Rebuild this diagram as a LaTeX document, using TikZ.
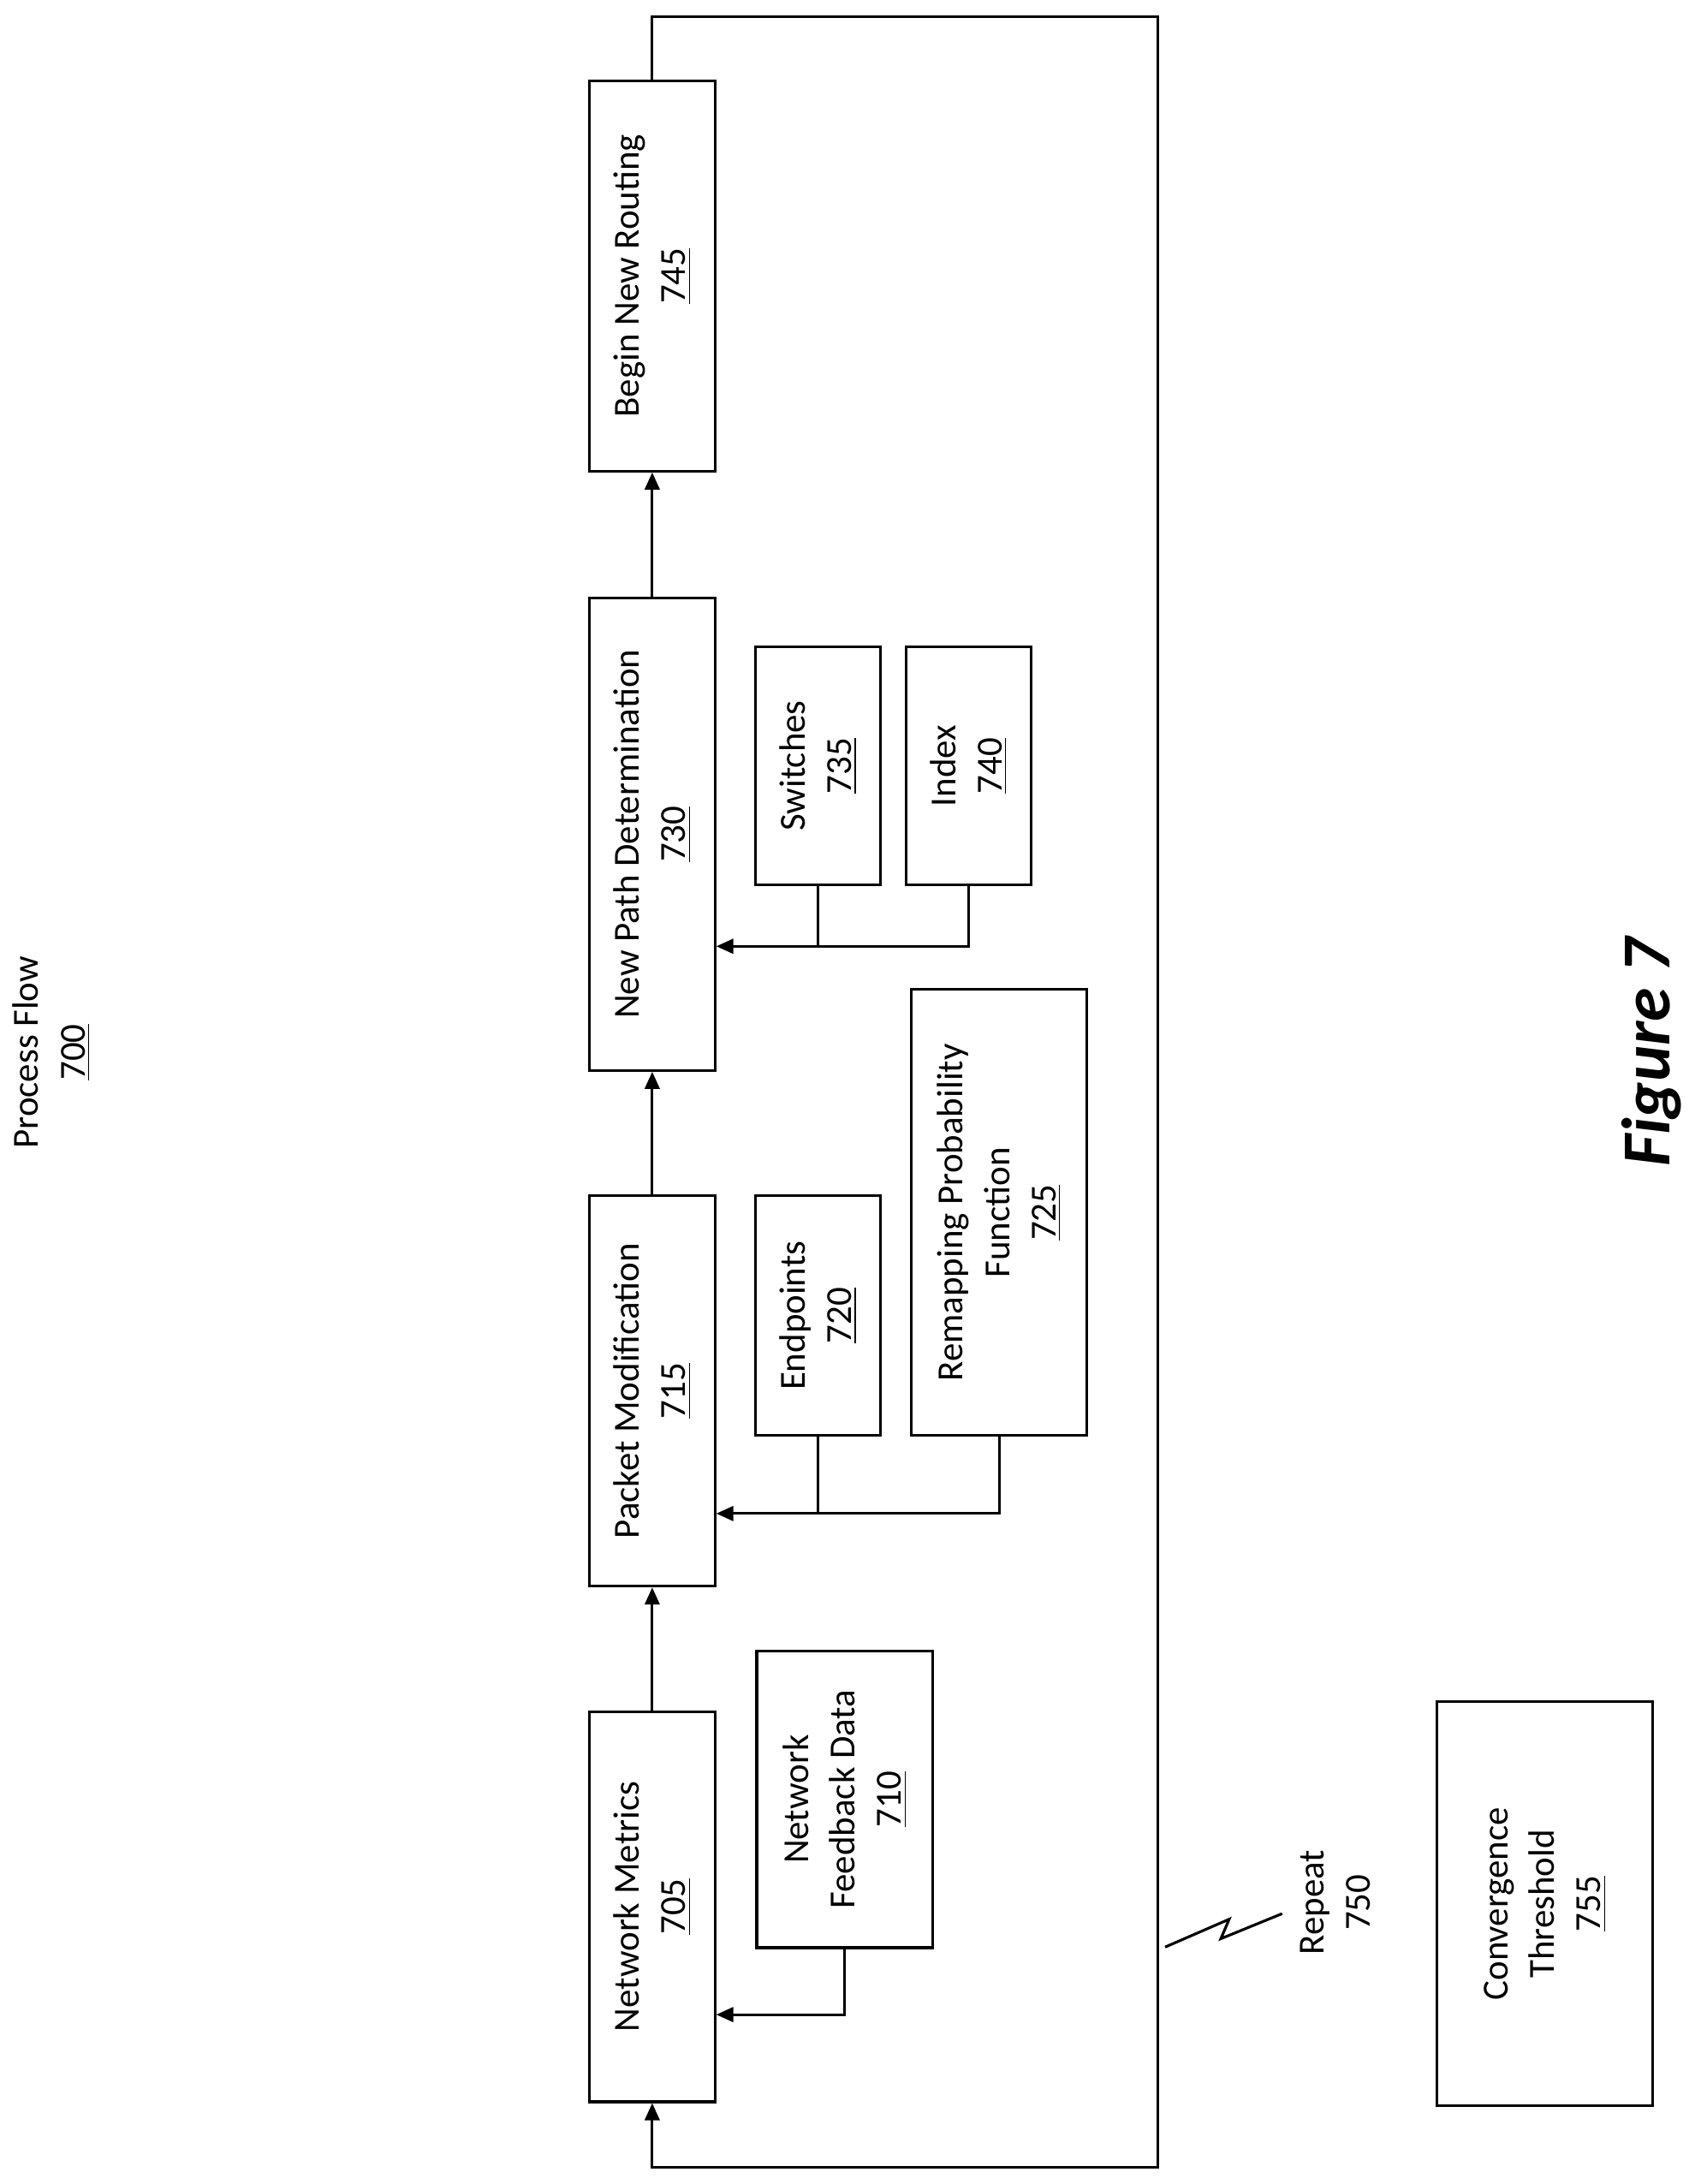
\documentclass[tikz,border=0pt]{standalone}
\usepackage{fontspec}
\setmainfont{Carlito}
\usetikzlibrary{arrows.meta}
\begin{document}
\begin{tikzpicture}[x=0.02cm, y=-0.02cm, >={Triangle[length=7pt,width=6pt]},
  box/.style={draw, line width=1.1pt, rotate=90, align=center, inner sep=2pt,
              font=\fontsize{15}{19}\selectfont},
  pil/.style={->, line width=1.1pt},
  lin/.style={line width=1.1pt},
  txt/.style={rotate=90, align=center, font=\fontsize{15}{19}\selectfont}]
\useasboundingbox (0,0) rectangle (1220,1567);
% main boxes
\node[box, minimum width=5.6cm, minimum height=1.8cm] (m705) at (468,1368) {Network Metrics\\\underline{705}};
\node[box, minimum width=4.26cm, minimum height=2.52cm] (f710) at (606,1291) {Network\\Feedback Data\\\underline{710}};
\node[box, minimum width=5.6cm, minimum height=1.8cm] (p715) at (468,998) {Packet Modification\\\underline{715}};
\node[box, minimum width=3.44cm, minimum height=1.8cm] (e720) at (587,944) {Endpoints\\\underline{720}};
\node[box, minimum width=6.4cm, minimum height=2.52cm] (r725) at (717,870) {Remapping Probability\\Function\\\underline{725}};
\node[box, minimum width=6.78cm, minimum height=1.8cm] (n730) at (468,598.5) {New Path Determination\\\underline{730}};
\node[box, minimum width=3.42cm, minimum height=1.8cm] (s735) at (587,549.5) {Switches\\\underline{735}};
\node[box, minimum width=3.42cm, minimum height=1.8cm] (i740) at (695,549.5) {Index\\\underline{740}};
\node[box, minimum width=5.6cm, minimum height=1.8cm] (b745) at (468,198) {Begin New Routing\\\underline{745}};
\node[box, minimum width=5.8cm, minimum height=3.1cm] (c755) at (1108.5,1366) {Convergence\\Threshold\\\underline{755}};
% labels
\node[txt] (pf700) at (37,755) {Process Flow\\\underline{700}};
\node[txt] (r750) at (958,1365) {Repeat\\750};
\node[rotate=90, font=\fontsize{28}{32}\selectfont\bfseries\itshape] (fig) at (1185,755) {Figure 7};
% flow
\draw[pil] (m705.east) -- (p715.west);
\draw[pil] (p715.east) -- (n730.west);
\draw[pil] (n730.east) -- (b745.west);
\draw[pil] (f710.west) -- ++(0,47) coordinate (j710) -- (j710 -| m705.south);
\draw[pil] (e720.west) -- ++(0,55) coordinate (j720) -- (j720 -| p715.south);
\draw[lin] (r725.west) |- (j720);
\draw[pil] (s735.west) -- ++(0,43) coordinate (j735) -- (j735 -| n730.south);
\draw[lin] (i740.west) |- (j735);
% repeat loop
\draw[pil] (b745.east) -- ++(0,-45) -| (831,1555) -| (m705.west);
\draw[lin] (836,1397) -- (882,1377) -- (876,1391) -- (920,1373);
\end{tikzpicture}
\end{document}
